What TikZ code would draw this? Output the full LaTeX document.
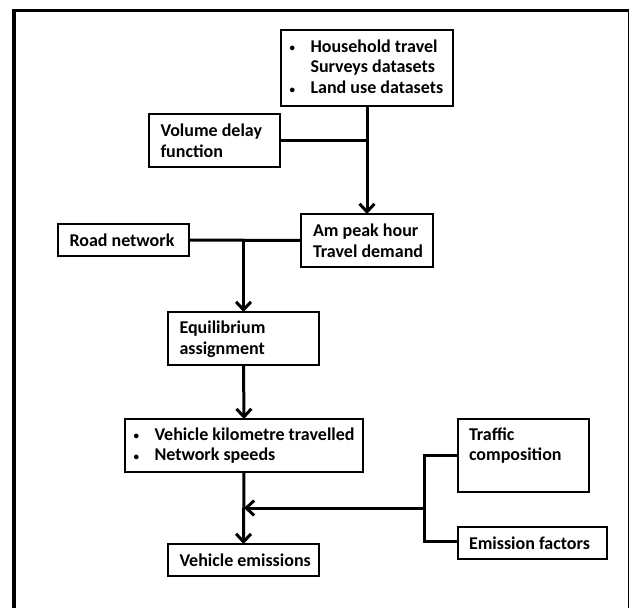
\documentclass[tikz,border=0pt]{standalone}
\usepackage{fontspec}
\setmainfont{Carlito}
\usetikzlibrary{arrows.meta}
\newcommand{\bul}{\makebox[18pt][l]{\hspace*{-3pt}\raisebox{0.3pt}{\fontsize{11}{11}\selectfont •}}}
\newcommand{\nobul}{\makebox[18pt][l]{}}
\begin{document}
\begin{tikzpicture}[x=1pt,y=-1pt,
  box/.style={draw=black,line width=2.2pt,anchor=north west,inner sep=0pt,outer sep=0pt},
  txt/.style={anchor=base west,inner sep=0pt,outer sep=0pt,font=\fontsize{18}{20.7}\selectfont\bfseries},
  conn/.style={line width=3pt},
  arr/.style={line width=3pt,-{Straight Barb[length=8pt,width=15pt]}}]
\useasboundingbox (0,0) rectangle (630,608);
\fill[white] (0,0) rectangle (630,608);
% frame
\draw[line width=3.2pt] (14,608) -- (14,10.5) -- (629,10.5);
\draw[line width=1pt] (628.8,10.5) -- (628.8,608);
% boxes
\node[box,minimum width=172pt,minimum height=76pt] (hh) at (281,30) {};
\node[box,minimum width=131pt,minimum height=53pt] (vd) at (149,114) {};
\node[box,minimum width=132pt,minimum height=53pt] (am) at (301,214) {};
\node[box,minimum width=131pt,minimum height=32pt] (rn) at (58,224) {};
\node[box,minimum width=151pt,minimum height=53pt] (eq) at (168,312) {};
\node[box,minimum width=238pt,minimum height=53pt] (vkt) at (125,419) {};
\node[box,minimum width=131pt,minimum height=73pt] (tc) at (458,419) {};
\node[box,minimum width=149pt,minimum height=32pt] (ef) at (458,527) {};
\node[box,minimum width=151pt,minimum height=32pt] (ve) at (168,544) {};
% texts
\node[txt] (hh-t) at (292.5,52) {\begin{tabular}[t]{@{}l@{}}\bul Household travel\\\nobul Surveys datasets\\\bul Land use datasets\end{tabular}};
\node[txt] (vd-t) at (160.5,136.7) {\begin{tabular}[t]{@{}l@{}}Volume delay\\function\end{tabular}};
\node[txt] (am-t) at (313,236.7) {\begin{tabular}[t]{@{}l@{}}Am peak hour\\Travel demand\end{tabular}};
\node[txt] (rn-t) at (69.5,246) {Road network};
\node[txt] (eq-t) at (179.5,333.3) {\begin{tabular}[t]{@{}l@{}}Equilibrium\\assignment\end{tabular}};
\node[txt] (vkt-t) at (136.5,440) {\begin{tabular}[t]{@{}l@{}}\bul Vehicle kilometre travelled\\\bul Network speeds\end{tabular}};
\node[txt] (tc-t) at (469,440) {\begin{tabular}[t]{@{}l@{}}Traffic\\composition\end{tabular}};
\node[txt] (ef-t) at (469,549) {Emission factors};
\node[txt] (ve-t) at (179.5,566.7) {Vehicle emissions};
% junction coordinates
\coordinate (j1) at (hh.south |- vd.east);
\coordinate (j2) at (eq.north |- rn.east);
\coordinate (j3) at (424,455);
\coordinate (j4) at (424,541);
\coordinate (j5) at (424,508);
\coordinate (j6) at (vkt.south |- j5);
% connectors
\draw[arr] (hh.south) -- (am.north);
\draw[conn] (vd.east) -- (j1);
\draw[conn] (rn.east) -- (am.west);
\draw[arr] (j2) -- (eq.north);
\draw[arr] (eq.south) -- (vkt.north);
\draw[arr] (vkt.south) -- (ve.north);
\draw[conn] (tc.west |- j3) -- (j3) -- (j4) -- (ef.west |- j4);
\draw[arr] (j5) -- (j6);
\end{tikzpicture}
\end{document}
